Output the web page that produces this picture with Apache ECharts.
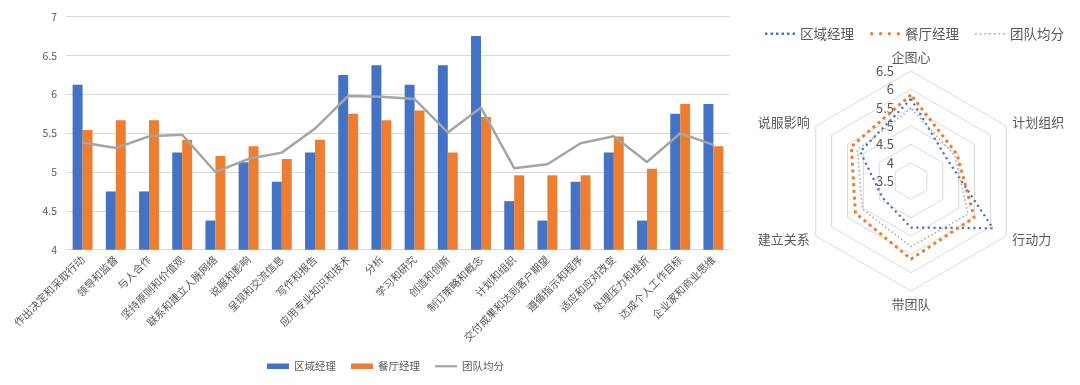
<!DOCTYPE html>
<html><head><meta charset="utf-8">
<script src="https://cdn.jsdelivr.net/npm/echarts@6/dist/echarts.min.js"></script>
<style>html,body{margin:0;padding:0;background:#fff}#c{width:1080px;height:385px}</style>
</head><body><div id="c"></div>
<script>
// ---- Bar / line chart data ----
const categories = ['作出决定和采取行动','领导和监督','与人合作','坚持原则和价值观','联系和建立人脉网络','说服和影响','呈现和交流信息','写作和报告','应用专业知识和技术','分析','学习和研究','创造和创新','制订策略和概念','计划和组织','交付成果和达到客户期望','遵循指示和程序','适应和应对改变','处理压力和挫折','达成个人工作目标','企业家和商业思维'];
const regionalMgr = [6.125, 4.75, 4.75, 5.25, 4.375, 5.125, 4.875, 5.25, 6.25, 6.375, 6.125, 6.375, 6.75, 4.625, 4.375, 4.875, 5.25, 4.375, 5.75, 5.875];
const restaurantMgr = [5.542, 5.667, 5.667, 5.417, 5.208, 5.333, 5.167, 5.417, 5.75, 5.667, 5.792, 5.25, 5.708, 4.958, 4.958, 4.958, 5.458, 5.042, 5.875, 5.333];
const teamAvg = [5.38, 5.31, 5.46, 5.48, 5.00, 5.17, 5.25, 5.56, 5.98, 5.97, 5.94, 5.51, 5.83, 5.05, 5.10, 5.37, 5.46, 5.13, 5.50, 5.35];
const barAxisMin = 4, barAxisMax = 7, barAxisStep = 0.5;
const seriesNames = ['区域经理', '餐厅经理', '团队均分'];

// ---- Radar data (clockwise from top) ----
const radarIndicators = ['企图心', '计划组织', '行动力', '带团队', '建立关系', '说服影响'];
const radarRegional = [5.74, 4.65, 6.08, 4.77, 4.40, 5.10];
const radarRestaurant = [5.85, 4.95, 5.49, 5.63, 5.25, 5.38];
const radarTeam = [5.48, 4.88, 5.30, 5.29, 5.03, 5.19];
const radarMin = 3.5, radarMax = 6.5, radarSplits = 6;

const FONT = '"Noto Sans CJK SC", "Noto Sans", sans-serif';
const TXT = '#595959';
const BLUE = '#4472C4', ORANGE = '#ED7D31', GRAY = '#A5A5A5';

// ECharts radar places indicators counter-clockwise; reorder to get clockwise layout
const order = [0, 5, 4, 3, 2, 1];
const reorder = arr => order.map(i => arr[i]);

function dotsPath(n, size, step, round) {
  let p = '';
  for (let i = 0; i < n; i++) {
    const x = i * step;
    if (round) {
      const r = size / 2;
      p += `M${x},${r}a${r},${r} 0 1,0 ${size},0a${r},${r} 0 1,0 ${-size},0Z`;
    } else {
      p += `M${x},0h${size}v${size}h${-size}Z`;
    }
  }
  return 'path://' + p;
}

const chart = echarts.init(document.getElementById('c'), null, {renderer: 'canvas'});
chart.setOption({
  animation: false,
  textStyle: {fontFamily: FONT},
  legend: [{
    left: 262, top: 356,
    itemWidth: 22, itemHeight: 5.5, itemGap: 15,
    symbolKeepAspect: true,
    textStyle: {color: TXT, fontSize: 10.5, fontFamily: FONT},
    data: [
      {name: seriesNames[0], icon: 'rect', itemStyle: {color: BLUE}},
      {name: seriesNames[1], icon: 'rect', itemStyle: {color: ORANGE}},
      {name: seriesNames[2], icon: 'path://M0,0h22v2.2h-22Z', itemStyle: {color: GRAY, borderWidth: 0}}
    ]
  }, {
    left: 760, top: 22,
    itemWidth: 30, itemHeight: 4, itemGap: 16,
    symbolKeepAspect: true,
    textStyle: {color: TXT, fontSize: 13.5, fontFamily: FONT},
    data: [
      {name: seriesNames[0], icon: dotsPath(6, 2.2, 5, false), itemStyle: {color: BLUE, borderWidth: 0}},
      {name: seriesNames[1], icon: dotsPath(4, 3, 8, true), itemStyle: {color: ORANGE, borderWidth: 0}},
      {name: seriesNames[2], icon: dotsPath(7, 1.5, 4.25, false), itemStyle: {color: GRAY, borderWidth: 0}}
    ]
  }],
  grid: {left: 66, right: 350, top: 16.7, bottom: 135.3, outerBoundsMode: 'none'},
  xAxis: {
    type: 'category', data: categories,
    axisLine: {lineStyle: {color: '#d9d9d9'}},
    axisTick: {show: false},
    axisLabel: {interval: 0, rotate: 45, color: TXT, fontSize: 10.5, margin: 8, fontFamily: FONT}
  },
  yAxis: {
    type: 'value', min: barAxisMin, max: barAxisMax, interval: barAxisStep,
    axisLine: {show: false}, axisTick: {show: false},
    axisLabel: {color: TXT, fontSize: 10.5, margin: 9, fontFamily: FONT},
    splitLine: {lineStyle: {color: '#d9d9d9', width: 1}}
  },
  radar: {
    center: [911, 181], radius: 110, startAngle: 90,
    splitNumber: radarSplits, shape: 'polygon',
    axisName: {color: TXT, fontSize: 13, fontFamily: FONT},
    nameGap: 7,
    splitLine: {lineStyle: {color: '#d9d9d9', width: 1}},
    splitArea: {show: false},
    axisLine: {show: false},
    axisTick: {show: false},
    axisLabel: {show: false},
    indicator: reorder(radarIndicators).map((n, i) => {
      const ind = {name: n, min: radarMin, max: radarMax};
      if (i === 0) ind.axisLabel = {show: true, color: TXT, fontSize: 13, margin: 17, fontFamily: FONT, showMinLabel: true, showMaxLabel: true};
      return ind;
    })
  },
  series: [
    {name: seriesNames[0], type: 'bar', data: regionalMgr, itemStyle: {color: BLUE}, barGap: '0%', barCategoryGap: '40%'},
    {name: seriesNames[1], type: 'bar', data: restaurantMgr, itemStyle: {color: ORANGE}},
    {name: seriesNames[2], type: 'line', data: teamAvg, symbol: 'none', lineStyle: {color: GRAY, width: 2.5}, itemStyle: {color: GRAY}, z: 5},
    {
      type: 'radar', symbol: 'none',
      data: [
        {name: seriesNames[0], value: reorder(radarRegional), lineStyle: {color: BLUE, width: 2.2, type: [2.2, 3.5]}, itemStyle: {color: BLUE}},
        {name: seriesNames[1], value: reorder(radarRestaurant), lineStyle: {color: ORANGE, width: 3, type: [3, 3.8]}, itemStyle: {color: ORANGE}},
        {name: seriesNames[2], value: reorder(radarTeam), lineStyle: {color: GRAY, width: 1.5, type: [1.5, 2.5]}, itemStyle: {color: GRAY}}
      ]
    }
  ]
});
</script>
</body></html>
